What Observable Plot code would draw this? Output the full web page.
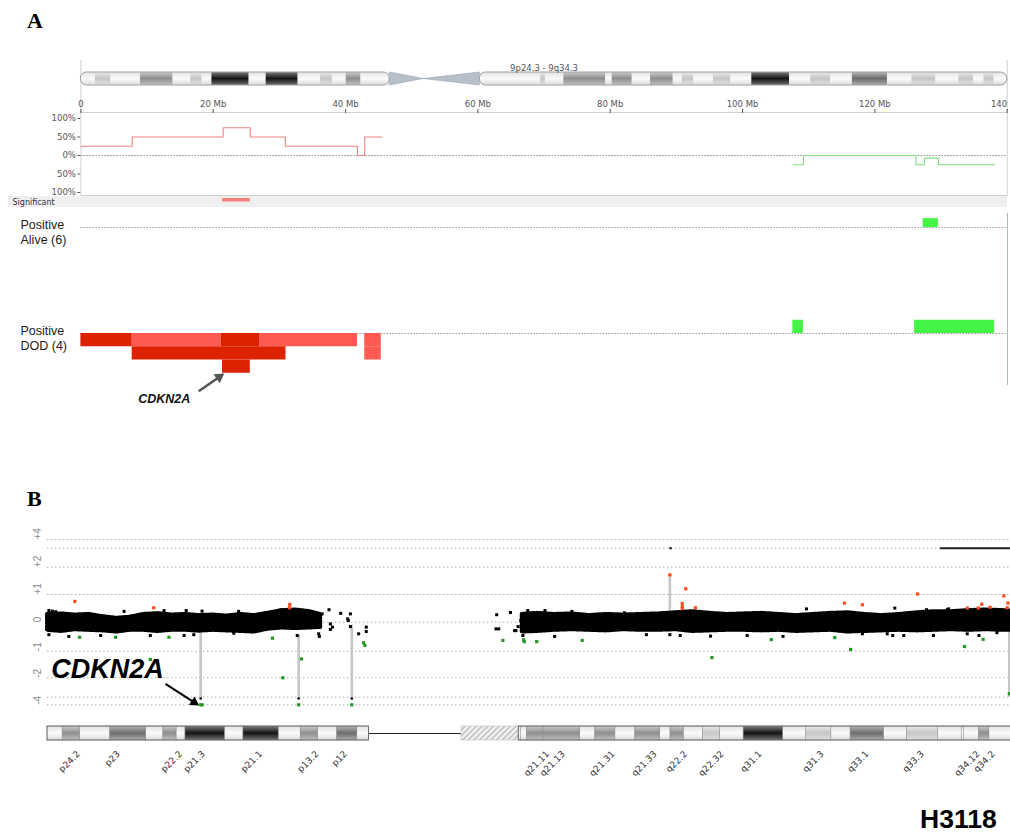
<!DOCTYPE html>
<html><head><meta charset="utf-8">
<script src="https://cdn.jsdelivr.net/npm/d3@7"></script>
<script src="https://cdn.jsdelivr.net/npm/@observablehq/plot@0.6"></script>
<style>
html,body{margin:0;padding:0;background:#fff;}
body{width:1010px;height:834px;position:relative;overflow:hidden;font-family:"Liberation Sans",Arial,sans-serif;}
.lay{position:absolute;left:0;}
.lbl{position:absolute;line-height:1;}
</style></head><body>
<svg width="0" height="0" style="position:absolute">
<defs>
<linearGradient id="g_w" x1="0" y1="0" x2="0" y2="1"><stop offset="0" stop-color="#e2e2e2"/><stop offset="0.5" stop-color="#fbfbfb"/><stop offset="1" stop-color="#dcdcdc"/></linearGradient>
<linearGradient id="g_l" x1="0" y1="0" x2="0" y2="1"><stop offset="0" stop-color="#e8e8e8"/><stop offset="0.5" stop-color="#c6c6c6"/><stop offset="1" stop-color="#e0e0e0"/></linearGradient>
<linearGradient id="g_m" x1="0" y1="0" x2="0" y2="1"><stop offset="0" stop-color="#cacaca"/><stop offset="0.5" stop-color="#8e8e8e"/><stop offset="1" stop-color="#c0c0c0"/></linearGradient>
<linearGradient id="g_g" x1="0" y1="0" x2="0" y2="1"><stop offset="0" stop-color="#b6b6b6"/><stop offset="0.5" stop-color="#6c6c6c"/><stop offset="1" stop-color="#ababab"/></linearGradient>
<linearGradient id="g_d" x1="0" y1="0" x2="0" y2="1"><stop offset="0" stop-color="#7c7c7c"/><stop offset="0.5" stop-color="#141414"/><stop offset="1" stop-color="#6e6e6e"/></linearGradient>
<pattern id="hatch" width="4" height="4" patternUnits="userSpaceOnUse" patternTransform="rotate(45)"><rect width="4" height="4" fill="#f3f3f3"/><rect width="1.4" height="4" fill="#b9b9b9"/></pattern>
</defs></svg>

<div class="lbl" style="left:27px;top:8px;font:bold 22px 'Liberation Serif',serif;">A</div>
<div class="lbl" style="left:27px;top:486px;font:bold 22px 'Liberation Serif',serif;">B</div>
<div class="lbl" style="left:920px;top:804px;font:bold 26.5px 'Liberation Sans',Arial,sans-serif;">H3118</div>
<div style="position:absolute;left:8px;top:196px;width:999px;height:11px;background:#efefef;"></div>
<div style="position:absolute;left:1007px;top:213px;width:1px;height:172px;background:#a9b7c9;"></div>

<script>
// ================= Panel A data =================
const chromTitle = "9p24.3 - 9q34.3";
const mbTicksA = [0, 20, 40, 60, 80, 100, 120];
const mbLastTickA = [140];
const armsA = [{s: 0, e: 46.7}, {s: 60.3, e: 140}];
const bandsA = [
  {s:2.2,e:4.5,t:"l"},{s:9.0,e:13.9,t:"m"},{s:16.6,e:18.3,t:"l"},{s:19.8,e:25.4,t:"d"},
  {s:28.0,e:32.8,t:"d"},{s:36.2,e:38.0,t:"l"},{s:40.1,e:42.3,t:"m"},
  {s:69.5,e:70.2,t:"l"},{s:73.0,e:79.3,t:"m"},{s:80.3,e:83.3,t:"m"},{s:86.1,e:89.5,t:"m"},
  {s:90.9,e:92.6,t:"l"},{s:95.6,e:98.2,t:"l"},{s:101.4,e:107.1,t:"d"},{s:110.3,e:113.3,t:"l"},
  {s:116.6,e:121.9,t:"g"},{s:125.6,e:129.2,t:"l"},{s:132.7,e:134.9,t:"l"},{s:136.5,e:138.0,t:"l"}
];
const centromereA = [{x:46.7,y1:0,y2:1},{x:51.8,y1:0.5,y2:0.5},{x:60.3,y1:0,y2:1}];
const freqTicks = [-100, -50, 0, 50, 100];
const freqRed = [{x:0,y:25},{x:7.75,y:50},{x:21.5,y:75},{x:25.6,y:50},{x:30.9,y:25},{x:41.8,y:0},{x:42.9,y:50},{x:45.5,y:50}];
const freqGreen = [{x:107.7,y:-25},{x:109.2,y:0},{x:126.2,y:-25},{x:127.5,y:-7},{x:129.6,y:-25},{x:138.1,y:-25}];
const significant = [{s:21.4, e:25.6}];
const aliveLabel = "Positive\nAlive (6)";
const dodLabel = "Positive\nDOD (4)";
const aliveN = 6, dodN = 4;
const aliveGain = [{s:127.3, e:129.6, k:1}];
const dodGain = [{s:107.6, e:109.2, k:1}, {s:126.0, e:138.1, k:1}];
const dodLoss = [
  {s:0,e:7.75,row:1,t:"deep"},{s:7.75,e:21.2,row:1,t:"shallow"},{s:21.2,e:27.0,row:1,t:"deep"},
  {s:27.0,e:41.8,row:1,t:"shallow"},{s:42.9,e:45.4,row:1,t:"shallow"},
  {s:7.75,e:31.0,row:2,t:"deep"},{s:42.9,e:45.4,row:2,t:"shallow"},
  {s:21.4,e:25.6,row:3,t:"deep"}
];
const geneA = [{label:"CDKN2A", x:12.6, y:-1.23}];
const arrowA = [{x1:17.8, y1:-1.09, x2:20.9, y2:-0.82}];
const arrowHeadA = [{x:20.9, y:-0.82}];

// ================= Panel B data =================
const gridB = [-4, -3, -2, -1, 0, 1, 2, 3, 4];
const yLabelsB = [{v:4,label:"+4"},{v:2,label:"+2"},{v:1,label:"+1"},{v:0,label:"0"},{v:-1,label:"-1"},{v:-2,label:"-2"},{v:-4,label:"-4"}];
const cloudP = [
  {x:0,lo:-0.28,hi:0.28},{x:2,lo:-0.32,hi:0.30},{x:4,lo:-0.26,hi:0.26},{x:6,lo:-0.28,hi:0.28},
  {x:8,lo:-0.30,hi:0.20},{x:10,lo:-0.34,hi:0.14},{x:12,lo:-0.28,hi:0.18},{x:14,lo:-0.28,hi:0.28},
  {x:16,lo:-0.32,hi:0.31},{x:18,lo:-0.28,hi:0.26},{x:20,lo:-0.28,hi:0.28},{x:22,lo:-0.31,hi:0.24},
  {x:24,lo:-0.28,hi:0.26},{x:26,lo:-0.30,hi:0.22},{x:28,lo:-0.32,hi:0.28},{x:30,lo:-0.34,hi:0.24},
  {x:32,lo:-0.24,hi:0.32},{x:34,lo:-0.20,hi:0.42},{x:36,lo:-0.22,hi:0.44},{x:38,lo:-0.20,hi:0.38},
  {x:39.6,lo:-0.18,hi:0.28}
];
const cloudQ = [
  {x:68.8,lo:-0.34,hi:0.28},{x:71,lo:-0.32,hi:0.32},{x:73.5,lo:-0.28,hi:0.28},{x:76,lo:-0.26,hi:0.30},
  {x:78.5,lo:-0.28,hi:0.24},{x:81,lo:-0.30,hi:0.28},{x:83.5,lo:-0.26,hi:0.26},{x:86,lo:-0.28,hi:0.28},
  {x:88.5,lo:-0.28,hi:0.30},{x:91,lo:-0.26,hi:0.34},{x:93.5,lo:-0.32,hi:0.38},{x:96,lo:-0.30,hi:0.32},
  {x:98.5,lo:-0.28,hi:0.28},{x:101,lo:-0.28,hi:0.30},{x:103.5,lo:-0.30,hi:0.32},{x:106,lo:-0.28,hi:0.28},
  {x:108.5,lo:-0.32,hi:0.24},{x:111,lo:-0.30,hi:0.28},{x:113.5,lo:-0.28,hi:0.32},{x:116,lo:-0.34,hi:0.34},
  {x:118.5,lo:-0.32,hi:0.28},{x:121,lo:-0.30,hi:0.24},{x:123.5,lo:-0.28,hi:0.28},{x:126,lo:-0.30,hi:0.34},
  {x:128.5,lo:-0.28,hi:0.38},{x:131,lo:-0.26,hi:0.38},{x:133.5,lo:-0.28,hi:0.42},{x:136,lo:-0.26,hi:0.44},
  {x:138.5,lo:-0.28,hi:0.42},{x:140,lo:-0.28,hi:0.40}
];
const blackB = [
  {x:0.2,v:0.42},{x:0.7,v:0.40},{x:1.2,v:0.38},{x:0.2,v:-0.43},{x:3.1,v:-0.49},{x:7.7,v:-0.46},
  {x:11.1,v:0.39},{x:14.9,v:-0.46},{x:16.9,v:0.42},{x:19.8,v:-0.46},{x:20.1,v:0.42},{x:21.2,v:-0.43},
  {x:22.4,v:0.40},{x:27.7,v:0.39},{x:27.0,v:-0.38},{x:34.2,v:0.42},{x:36.2,v:-0.46},{x:39.3,v:-0.40},
  {x:39.8,v:0.30},{x:40.8,v:0.45},{x:41.0,v:-0.06},{x:41.3,v:-0.17},{x:42.5,v:0.32},{x:43.5,v:0.12},
  {x:43.6,v:0.06},{x:43.9,v:0.30},{x:43.9,v:-0.15},{x:45.1,v:-0.40},{x:46.2,v:-0.17},{x:46.2,v:-0.32},
  {x:39.4,v:-0.49},{x:41.0,v:-0.25},
  {x:65.1,v:0.27},{x:65.0,v:-0.23},{x:65.4,v:-0.23},{x:67.1,v:0.35},{x:67.7,v:-0.29},{x:67.9,v:-0.29},
  {x:68.2,v:-0.15},{x:68.6,v:0.06},{x:68.9,v:-0.46},{x:69.6,v:0.42},{x:72.1,v:0.42},{x:73.5,v:-0.49},
  {x:76.0,v:0.39},{x:83.6,v:0.34},{x:86.8,v:-0.43},{x:90.2,v:-0.43},{x:91.7,v:-0.46},{x:96.1,v:-0.48},
  {x:101.4,v:-0.46},{x:106.6,v:-0.49},{x:110.0,v:0.48},{x:118.1,v:-0.40},{x:122.5,v:-0.46},{x:122.8,v:0.51},
  {x:127.4,v:0.45},{x:130.6,v:0.48},{x:133.3,v:-0.40},{x:135.0,v:-0.46},{x:121.7,v:-0.40},{x:124.1,v:-0.46},
  {x:128.4,v:-0.46},{x:130.4,v:0.45},{x:137.6,v:-0.36}
];
const redB = [
  {x:3.96,v:0.75},{x:15.4,v:0.52},{x:35.1,v:0.64},{x:35.1,v:0.52},{x:90.2,v:1.72},{x:92.5,v:1.21},
  {x:92.0,v:0.68},{x:92.0,v:0.57},{x:92.0,v:0.49},{x:93.9,v:0.52},{x:115.5,v:0.69},{x:118.1,v:0.63},
  {x:126.1,v:1.02},{x:133.3,v:0.51},{x:134.9,v:0.51},{x:135.4,v:0.65},{x:136.6,v:0.54},{x:138.6,v:0.95},
  {x:139.2,v:0.69},{x:139.1,v:0.52}
];
const greenB = [
  {x:4.64,v:-0.52},{x:9.86,v:-0.52},{x:17.6,v:-0.52},{x:14.9,v:-1.31},{x:32.6,v:-0.55},{x:34.1,v:-2.0},
  {x:36.8,v:-1.29},{x:45.8,v:-0.71},{x:46.0,v:-0.80},{x:22.2,v:-4},{x:22.4,v:-4},{x:36.4,v:-4},{x:44.1,v:-4},
  {x:66.0,v:-0.63},{x:69.0,v:-0.61},{x:69.1,v:-0.67},{x:70.9,v:-0.67},{x:77.5,v:-0.63},{x:96.3,v:-1.24},
  {x:104.9,v:-0.60},{x:114.1,v:-0.53},{x:116.4,v:-0.94},{x:132.9,v:-0.84},{x:135.6,v:-0.59},{x:139.4,v:-2.82}
];
const stemsB = [
  {x:22.2,y1:-0.34,y2:-3.17},{x:36.4,y1:-0.46,y2:-3.17},{x:44.1,y1:-0.1,y2:-3.17},
  {x:90.2,y1:0.3,y2:1.72},{x:139.4,y1:-0.1,y2:-3.0}
];
const stemEndsB = [{x:22.2,v:-3.17},{x:36.4,v:-3.17},{x:44.1,v:-3.17}];
const highPointB = [{x:90.3, v:3}];
const highLineB = [{s:129.4, e:140, v:3}];
const geneB = [{label:"CDKN2A", x:8.7, v:-1.69}];
const arrowB = [{x1:17.1, y1:-2.31, x2:21.26, y2:-3.67}];
const arrowHeadB = [{x:21.26, v:-3.67}];

const armsB = [{s:0, e:46.6}, {s:68.3, e:141}];
const stalkB = [{s:46.6, e:60}];
const hetB = [{s:60, e:68.3}];
const bandsB = [
  {s:0,e:2.2,t:"w"},{s:2.2,e:4.7,t:"m"},{s:4.7,e:9.1,t:"w"},{s:9.1,e:14.3,t:"g"},{s:14.3,e:16.8,t:"w"},
  {s:16.8,e:18.7,t:"m"},{s:18.7,e:20.0,t:"w"},{s:20.0,e:25.7,t:"d"},{s:25.7,e:28.4,t:"w"},{s:28.4,e:33.5,t:"d"},
  {s:33.5,e:36.7,t:"w"},{s:36.7,e:39.2,t:"m"},{s:39.2,e:42.0,t:"w"},{s:42.0,e:44.9,t:"g"},{s:44.9,e:46.6,t:"w"},
  {s:68.3,e:68.6,t:"w"},{s:68.6,e:69.5,t:"w"},{s:69.5,e:71.9,t:"m"},{s:71.9,e:77.2,t:"m"},{s:77.2,e:79.4,t:"w"},
  {s:79.4,e:82.3,t:"m"},{s:82.3,e:85.2,t:"w"},{s:85.2,e:88.8,t:"m"},{s:88.8,e:90.3,t:"w"},{s:90.3,e:92.2,t:"m"},
  {s:92.2,e:95.0,t:"w"},{s:95.0,e:97.5,t:"l"},{s:97.5,e:100.9,t:"w"},{s:100.9,e:106.6,t:"d"},{s:106.6,e:109.9,t:"w"},
  {s:109.9,e:113.6,t:"l"},{s:113.6,e:116.4,t:"w"},{s:116.4,e:121.2,t:"g"},{s:121.2,e:124.6,t:"w"},{s:124.6,e:129.1,t:"l"},
  {s:129.1,e:132.5,t:"w"},{s:132.5,e:132.8,t:"w"},{s:132.8,e:135.0,t:"w"},{s:135.0,e:136.5,t:"m"},{s:136.5,e:141,t:"w"}
];
const bandLabelsB = [
  {x:4.5,label:"p24.2"},{x:10.3,label:"p23"},{x:19.3,label:"p22.2"},{x:22.6,label:"p21.3"},{x:30.9,label:"p21.1"},
  {x:39.1,label:"p13.2"},{x:43.2,label:"p12"},{x:72.5,label:"q21.11"},{x:74.8,label:"q21.13"},{x:82.0,label:"q21.31"},
  {x:88.1,label:"q21.33"},{x:92.5,label:"q22.2"},{x:97.8,label:"q22.32"},{x:103.3,label:"q31.1"},{x:112.3,label:"q31.3"},
  {x:118.8,label:"q33.1"},{x:126.8,label:"q33.3"},{x:134.9,label:"q34.12"},{x:137.1,label:"q34.2"}
];

// ================= Rendering =================
const W = 1010;
const FA = "DejaVu Sans, Liberation Sans, sans-serif";
const FS = "Liberation Sans, Arial, sans-serif";
const baseStyle = {background: "none", fontFamily: FA, fontSize: "8.5px", color: "#555"};
const types = ["w", "l", "m", "g", "d"];
function place(el, top) {
  const d = document.createElement("div");
  d.className = "lay"; d.style.top = top + "px";
  d.appendChild(el); document.body.appendChild(d);
}
const xA = {domain: [0, 140], axis: null};
const mA = {width: W, marginLeft: 80.4, marginRight: 3.3};

// A1: ideogram
place(Plot.plot({
  ...mA, height: 57, marginTop: 5, marginBottom: 0,
  x: xA, y: {domain: [0, 1], range: [30, 17], axis: null},
  style: baseStyle,
  marks: [
    Plot.ruleX([0, 140], {stroke: "#cfcfcf"}),
    Plot.rect(armsA, {x1: "s", x2: "e", y1: 0, y2: 1, fill: "url(#g_w)", rx: 6}),
    ...types.filter(t => t !== "w").map(t =>
      Plot.rect(bandsA.filter(b => b.t === t), {x1: "s", x2: "e", y1: 0, y2: 1, fill: `url(#g_${t})`})),
    Plot.rect(armsA, {x1: "s", x2: "e", y1: 0, y2: 1, fill: "none", stroke: "#a0a0a0", rx: 6}),
    Plot.areaY(centromereA, {x: "x", y1: "y1", y2: "y2", fill: "#b6bfca", stroke: "#9aa4b0", strokeWidth: 0.6}),
    Plot.text([chromTitle], {frameAnchor: "top", dy: 4, fontSize: 8.5, fill: "#555"})
  ]
}), 55);

// A2: frequency plot
const fmtMb = d => d === 0 ? "0" : `${d} Mb`;
place(Plot.plot({
  ...mA, height: 112, marginTop: 24, marginBottom: 5,
  x: {domain: [0, 140], axis: null},
  y: {domain: [-100, 100], range: [104, 30], axis: "left", ticks: freqTicks, tickSize: 3, tickPadding: 2, label: null,
      tickFormat: d => Math.abs(d) + "%"},
  style: baseStyle,
  marks: [
    Plot.frame({stroke: "#d2d2d2"}),
    Plot.axisX(mbTicksA, {anchor: "top", tickSize: 4, tickPadding: 2, tickFormat: fmtMb, label: null}),
    Plot.axisX(mbLastTickA, {anchor: "top", tickSize: 4, tickPadding: 2, tickFormat: d => `${d}`, textAnchor: "end", label: null}),
    Plot.ruleY([0], {stroke: "#8a8a8a", strokeDasharray: "1.5,1.5"}),
    Plot.line(freqRed, {x: "x", y: "y", curve: "step-after", stroke: "#ee8282", strokeWidth: 1.1}),
    Plot.line(freqGreen, {x: "x", y: "y", curve: "step-after", stroke: "#7fe07f", strokeWidth: 1.1})
  ]
}), 88);

// A2b: significance strip
place(Plot.plot({
  ...mA, height: 11, marginTop: 0, marginBottom: 0,
  x: xA, y: {domain: [0, 1], range: [5.5, 2], axis: null},
  style: baseStyle,
  marks: [
    Plot.rect(significant, {x1: "s", x2: "e", y1: 0, y2: 1, fill: "#f7817d"}),
    Plot.text(["Significant"], {frameAnchor: "left", dx: -68.4, textAnchor: "start", fontSize: 8, fill: "#333"})
  ]
}), 196);

// A3a: Alive row
place(Plot.plot({
  ...mA, height: 106, marginTop: 0, marginBottom: 0,
  x: xA, y: {domain: [-1, 1], axis: null},
  style: baseStyle,
  marks: [
    Plot.ruleY([0], {stroke: "#9a9a9a", strokeDasharray: "1.5,1.5"}),
    Plot.rect(aliveGain, {x1: "s", x2: "e", y1: 0, y2: d => d.k / aliveN, fill: "#45f545"}),
    Plot.text([aliveLabel], {frameAnchor: "left", dx: -60.4, dy: 4, textAnchor: "start", fontSize: 12.5,
      lineHeight: 1.2, fill: "#1a1a1a", fontFamily: FS})
  ]
}), 174);

// A3b: DOD row
place(Plot.plot({
  ...mA, height: 130, marginTop: 0, marginBottom: 24,
  x: xA, y: {domain: [-1, 1], axis: null},
  style: baseStyle,
  marks: [
    Plot.ruleY([0], {stroke: "#9a9a9a", strokeDasharray: "1.5,1.5"}),
    Plot.rect(dodGain, {x1: "s", x2: "e", y1: 0, y2: d => d.k / dodN, fill: "#45f545"}),
    Plot.rect(dodLoss.filter(d => d.t === "shallow"), {x1: "s", x2: "e", y1: d => -(d.row - 1) / dodN, y2: d => -d.row / dodN, fill: "#ff5a52"}),
    Plot.rect(dodLoss.filter(d => d.t === "deep"), {x1: "s", x2: "e", y1: d => -(d.row - 1) / dodN, y2: d => -d.row / dodN, fill: "#dd2200"}),
    Plot.text([dodLabel], {frameAnchor: "left", dx: -60.4, dy: 4, textAnchor: "start", fontSize: 12.5,
      lineHeight: 1.2, fill: "#1a1a1a", fontFamily: FS}),
    Plot.text(geneA, {x: "x", y: "y", text: "label", fontSize: 12.5, fontWeight: "bold", fontStyle: "italic", fill: "#111", fontFamily: FS}),
    Plot.link(arrowA, {x1: "x1", y1: "y1", x2: "x2", y2: "y2", stroke: "#555", strokeWidth: 2.6}),
    Plot.dot(arrowHeadA, {x: "x", y: "y", symbol: "triangle", r: 4, fill: "#555", rotate: 55})
  ]
}), 280);

// B1: log-ratio scatter (compressed piecewise log-ratio axis via scale transform)
const gridPxB = [189.3, 181.7, 162.3, 135.7, 106.7, 79, 51.7, 32.7, 24];
const warpB = d3.scaleLinear().domain(gridB).range(gridPxB);
const xB = {domain: [0, 139.57], axis: null};
const mB = {width: W, marginLeft: 47, marginRight: 0};
const cloudStyle = {x: "x", y1: "lo", y2: "hi", fill: "#000", stroke: "#000", strokeWidth: 4, strokeDasharray: "1.6,1.3"};
place(Plot.plot({
  ...mB, height: 200, marginTop: 0, marginBottom: 0,
  x: xB,
  y: {transform: v => warpB(v), domain: [0, 200], range: [0, 200], axis: null},
  style: baseStyle,
  marks: [
    Plot.ruleY(gridB, {stroke: "#aaaaaa", strokeDasharray: "1.5,2.5"}),
    Plot.text(yLabelsB, {y: "v", text: "label", frameAnchor: "left", dx: -10, rotate: -90, fill: "#8a8a8a", fontSize: 10, fontFamily: FS}),
    Plot.ruleX(stemsB, {x: "x", y1: "y1", y2: "y2", stroke: "#c6c6c6", strokeWidth: 2.6}),
    Plot.areaY(cloudP, cloudStyle),
    Plot.areaY(cloudQ, cloudStyle),
    Plot.dot(blackB, {x: "x", y: "v", symbol: "square", r: 1.7, fill: "#000"}),
    Plot.ruleY(highLineB, {y: "v", x1: "s", x2: "e", stroke: "#222", strokeWidth: 2}),
    Plot.dot(highPointB, {x: "x", y: "v", symbol: "square", r: 1.3, fill: "#222"}),
    Plot.dot(stemEndsB, {x: "x", y: "v", r: 1.3, fill: "#000"}),
    Plot.dot(redB, {x: "x", y: "v", symbol: "square", r: 1.8, fill: "#ff4a1c"}),
    Plot.dot(greenB, {x: "x", y: "v", symbol: "square", r: 1.8, fill: "#1f9a1f"}),
    Plot.text(geneB, {x: "x", y: "v", text: "label", fontSize: 27, fontWeight: "bold", fontStyle: "italic", fill: "#000", fontFamily: FS}),
    Plot.link(arrowB, {x1: "x1", y1: "y1", x2: "x2", y2: "y2", stroke: "#000", strokeWidth: 2}),
    Plot.dot(arrowHeadB, {x: "x", y: "v", symbol: "triangle", r: 3.8, fill: "#000", rotate: 123})
  ]
}), 515);

// B2: ideogram with band labels
place(Plot.plot({
  ...mB, height: 85, marginTop: 0, marginBottom: 0,
  x: xB, y: {domain: [0, 1], range: [25, 11], axis: null},
  style: baseStyle,
  marks: [
    Plot.ruleY(stalkB, {y: 0.5, x1: "s", x2: "e", stroke: "#222", strokeWidth: 1.2}),
    Plot.rect(hetB, {x1: "s", x2: "e", y1: 0, y2: 1, fill: "url(#hatch)", stroke: "#c2c2c2", strokeWidth: 0.6}),
    ...types.map(t => Plot.rect(bandsB.filter(b => b.t === t), {x1: "s", x2: "e", y1: 0, y2: 1,
      fill: `url(#g_${t})`, stroke: "#8a8a8a", strokeWidth: 0.5})),
    Plot.rect(armsB, {x1: "s", x2: "e", y1: 0, y2: 1, fill: "none", stroke: "#666", strokeWidth: 0.9}),
    Plot.text(bandLabelsB, {x: "x", y: 0, text: "label", rotate: -45, textAnchor: "end", dy: 12, fontSize: 9, fill: "#333", fontFamily: FA})
  ]
}), 715);
</script>
</body></html>
